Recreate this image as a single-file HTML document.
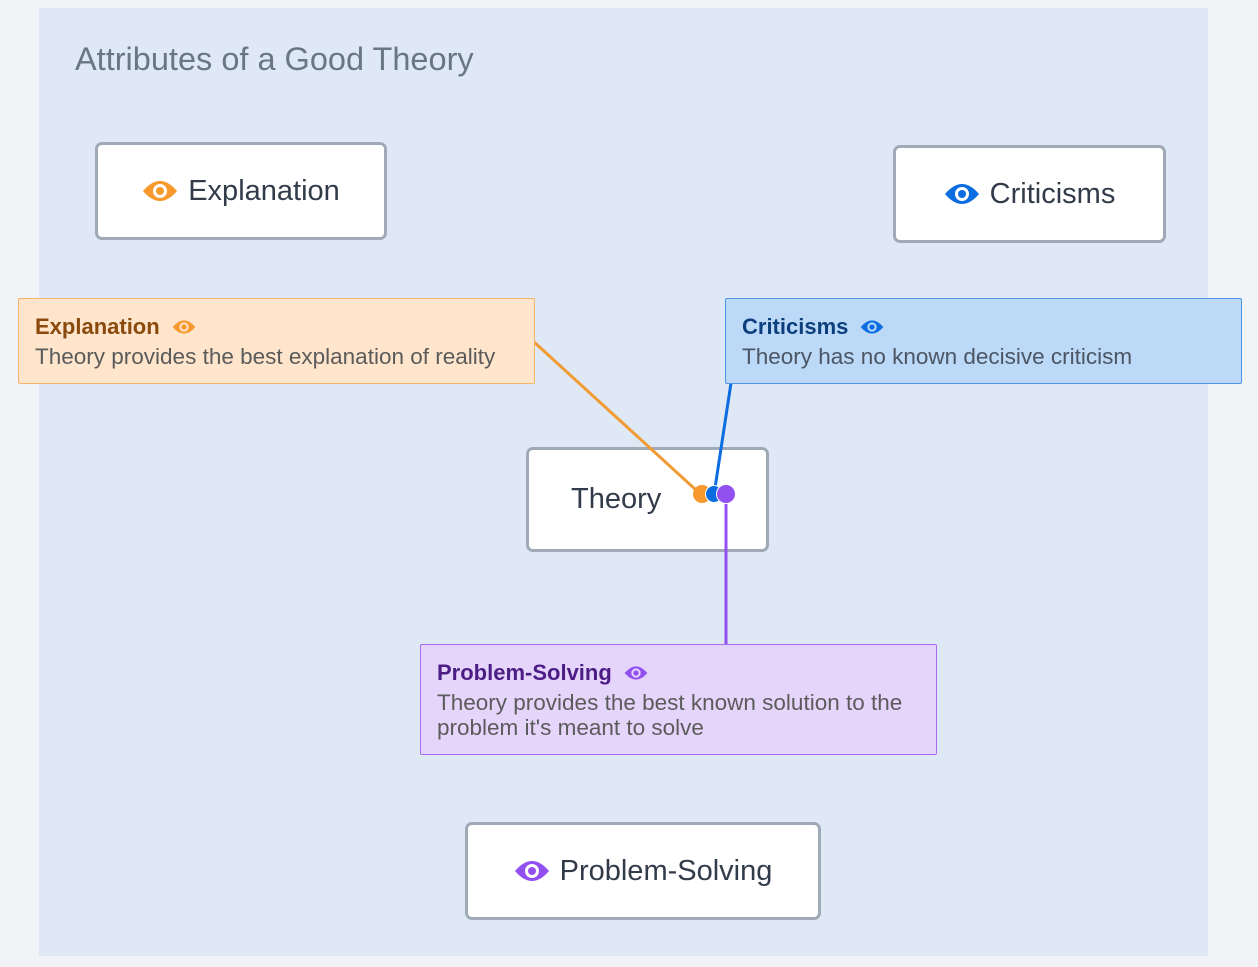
<!DOCTYPE html>
<html><head><style>
body{margin:0;width:1258px;height:967px;background:#f1f3f7;position:relative;overflow:hidden;font-family:"Liberation Sans",sans-serif;}
.panel{position:absolute;left:39px;top:8px;width:1169px;height:948px;background:#dfe8f5;}
.title{position:absolute;left:75px;top:41px;font-size:32.5px;color:#6b7685;}
.node{position:absolute;background:#fff;border:3px solid #a0a9b6;border-radius:7px;box-sizing:border-box;display:flex;align-items:center;justify-content:center;font-size:29px;color:#323b4a;}
.node svg{margin-right:10px}
.note{position:absolute;box-sizing:border-box;border:1px solid;border-radius:2px;padding:15px 16px;font-size:22.5px;line-height:25px;}
.note b{font-weight:bold;display:flex;align-items:center;gap:12px;font-size:22px;margin-bottom:5px}
</style></head><body>
<div class="panel"></div>
<div class="title">Attributes of a Good Theory</div>
<div class="node" style="left:95px;top:142px;width:292px;height:98px"><svg width="36" height="24" viewBox="0 0 36 24"><path d="M1 12Q18-8 35 12Q18 32 1 12Z" fill="#f7992d"/><circle cx="18" cy="12" r="7" fill="#fff"/><circle cx="18" cy="12" r="4" fill="#f7992d"/></svg>Explanation</div>
<div class="node" style="left:893px;top:145px;width:273px;height:98px"><svg width="36" height="24" viewBox="0 0 36 24"><path d="M1 12Q18-8 35 12Q18 32 1 12Z" fill="#0b6de0"/><circle cx="18" cy="12" r="7" fill="#fff"/><circle cx="18" cy="12" r="4" fill="#0b6de0"/></svg>Criticisms</div>
<div class="node" style="left:526px;top:447px;width:243px;height:105px;justify-content:flex-start;padding-left:42px">Theory</div>
<div class="node" style="left:465px;top:822px;width:356px;height:98px"><svg width="36" height="24" viewBox="0 0 36 24"><path d="M1 12Q18-8 35 12Q18 32 1 12Z" fill="#9350f0"/><circle cx="18" cy="12" r="7" fill="#fff"/><circle cx="18" cy="12" r="4" fill="#9350f0"/></svg>Problem-Solving</div>
<svg width="1258" height="967" style="position:absolute;left:0;top:0">
<line x1="534" y1="342" x2="696" y2="490" stroke="#f29b35" stroke-width="3"/>
<line x1="731" y1="383" x2="715" y2="488" stroke="#0b6de0" stroke-width="3"/>
<line x1="726" y1="500" x2="726" y2="645" stroke="#9350f0" stroke-width="3"/>
<circle cx="702" cy="494" r="9" fill="#f7992d"/><circle cx="714" cy="494" r="9" fill="#fff"/><circle cx="714" cy="494" r="8" fill="#0b6de0"/><circle cx="726" cy="494" r="10" fill="#fff"/><circle cx="726" cy="494" r="9" fill="#9350f0"/>
</svg>
<div class="note" style="left:18px;top:298px;width:517px;height:86px;background:#fee5cb;border-color:#f5b66a;color:#5b5b5b"><b style="color:#8a4a0e">Explanation <svg width="24" height="16" viewBox="0 0 36 24"><path d="M1 12Q18-8 35 12Q18 32 1 12Z" fill="#f7992d"/><circle cx="18" cy="12" r="7" fill="#fee5cb"/><circle cx="18" cy="12" r="4" fill="#f7992d"/></svg></b>Theory provides the best explanation of reality</div>
<div class="note" style="left:725px;top:298px;width:517px;height:86px;background:#bcdaf8;border-color:#4f93e6;color:#4b5563"><b style="color:#0c3f7c">Criticisms <svg width="24" height="16" viewBox="0 0 36 24"><path d="M1 12Q18-8 35 12Q18 32 1 12Z" fill="#0b6de0"/><circle cx="18" cy="12" r="7" fill="#bcdaf8"/><circle cx="18" cy="12" r="4" fill="#0b6de0"/></svg></b>Theory has no known decisive criticism</div>
<div class="note" style="left:420px;top:644px;width:517px;height:111px;background:#e6d5fb;border-color:#a46cf0;color:#5b5b5b"><b style="color:#4c1d85">Problem-Solving <svg width="24" height="16" viewBox="0 0 36 24"><path d="M1 12Q18-8 35 12Q18 32 1 12Z" fill="#9350f0"/><circle cx="18" cy="12" r="7" fill="#e6d5fb"/><circle cx="18" cy="12" r="4" fill="#9350f0"/></svg></b>Theory provides the best known solution to the problem it's meant to solve</div>
</body></html>
